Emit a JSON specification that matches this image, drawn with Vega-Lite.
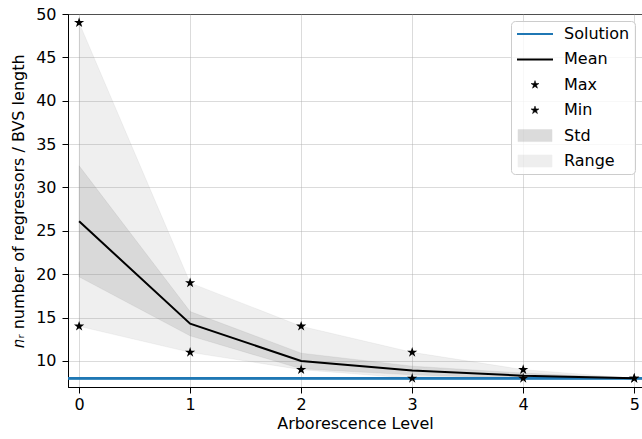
{
  "$schema": "https://vega.github.io/schema/vega-lite/v6.json",
  "width": 574,
  "height": 373,
  "autosize": {"type": "none"},
  "padding": {"left": 68, "top": 14, "right": 0, "bottom": 52},
  "background": "white",
  "config": {
    "view": {"stroke": "black", "strokeWidth": 1},
    "font": "DejaVu Sans",
    "axis": {
      "labelFont": "DejaVu Sans", "labelFontSize": 16, "labelColor": "black",
      "titleFont": "DejaVu Sans", "titleFontSize": 16, "titleFontWeight": "normal", "titleColor": "black",
      "domainColor": "black", "tickColor": "black", "tickSize": 6,
      "gridColor": "#b0b0b0", "gridOpacity": 0.45, "gridWidth": 1
    }
  },
  "data": {"values": [
    {"level": 0, "mean": 26.1, "lo": 19.7, "hi": 32.5, "min": 14, "max": 49},
    {"level": 1, "mean": 14.3, "lo": 12.9, "hi": 15.7, "min": 11, "max": 19},
    {"level": 2, "mean": 10.0, "lo": 9.1, "hi": 10.9, "min": 9, "max": 14},
    {"level": 3, "mean": 8.9, "lo": 8.4, "hi": 9.4, "min": 8, "max": 11},
    {"level": 4, "mean": 8.3, "lo": 8.0, "hi": 8.6, "min": 8, "max": 9},
    {"level": 5, "mean": 8.0, "lo": 8.0, "hi": 8.0, "min": 8, "max": 8}
  ]},
  "layer": [
    {
      "mark": {"type": "area", "fillOpacity": 0.13, "stroke": "#808080", "strokeWidth": 0.8, "strokeOpacity": 0.1},
      "encoding": {
        "x": {"field": "level", "type": "quantitative",
          "scale": {"domain": [-0.1, 5.07], "nice": false, "zero": false},
          "axis": {"values": [0, 1, 2, 3, 4, 5], "title": "Arborescence Level", "format": "d", "labelPadding": 3, "titlePadding": 3}},
        "y": {"field": "max", "type": "quantitative",
          "scale": {"domain": [7, 50], "nice": false, "zero": false},
          "axis": {"values": [10, 15, 20, 25, 30, 35, 40, 45, 50], "title": "𝑛ᵣ number of regressors / BVS length", "titlePadding": 9, "labelPadding": 6}},
        "y2": {"field": "min"},
        "color": {"datum": "Range", "type": "nominal",
          "scale": {"domain": ["Solution", "Mean", "Max", "Min", "Std", "Range"],
                    "range": ["#1f77b4", "#000000", "#000000", "#000000", "#808080", "#808080"]},
          "legend": {
            "title": null,
            "orient": "top-right",
            "offset": 7,
            "padding": 5,
            "fillColor": "rgba(255,255,255,0.8)",
            "strokeColor": "#cccccc",
            "cornerRadius": 4,
            "labelFont": "DejaVu Sans",
            "labelFontSize": 16,
            "labelColor": "black",
            "symbolSize": 100,
            "symbolOffset": 11,
            "labelOffset": 21,
            "rowPadding": 9.4,
            "symbolType": {"expr": "datum.value == 'Solution' || datum.value == 'Mean' ? 'M-3.6,0H3.6' : (datum.value == 'Max' || datum.value == 'Min' ? 'M0,-0.84L0.1886,-0.2596L0.7988,-0.2596L0.3049,0.0991L0.4939,0.6796L0,0.3209L-0.4939,0.6796L-0.3049,0.0991L-0.7988,-0.2596L-0.1886,-0.2596Z' : 'M-3.4,-1.2H3.4V1.2H-3.4Z')"},
            "symbolFillColor": {"expr": "datum.value == 'Std' || datum.value == 'Range' ? '#808080' : (datum.value == 'Solution' ? '#1f77b4' : 'black')"},
            "symbolStrokeColor": {"expr": "datum.value == 'Solution' ? '#1f77b4' : (datum.value == 'Std' || datum.value == 'Range' ? '#808080' : 'black')"},
            "symbolStrokeWidth": {"expr": "datum.value == 'Solution' || datum.value == 'Mean' ? 2 : 0.5"},
            "symbolOpacity": {"expr": "datum.value == 'Std' ? 0.28 : (datum.value == 'Range' ? 0.13 : 1)"}
          }
        }
      }
    },
    {
      "mark": {"type": "area", "fillOpacity": 0.2, "stroke": "#808080", "strokeWidth": 0.8, "strokeOpacity": 0.15},
      "encoding": {
        "x": {"field": "level", "type": "quantitative"},
        "y": {"field": "hi", "type": "quantitative"},
        "y2": {"field": "lo"},
        "color": {"datum": "Std", "type": "nominal"}
      }
    },
    {
      "mark": {"type": "rule", "strokeWidth": 2},
      "encoding": {
        "y": {"datum": 8, "type": "quantitative"},
        "color": {"datum": "Solution", "type": "nominal"}
      }
    },
    {
      "mark": {"type": "line", "strokeWidth": 2},
      "encoding": {
        "x": {"field": "level", "type": "quantitative"},
        "y": {"field": "mean", "type": "quantitative"},
        "color": {"datum": "Mean", "type": "nominal"}
      }
    },
    {
      "mark": {"type": "point", "shape": "M0,-1L0.2245,-0.309L0.951,-0.309L0.363,0.118L0.588,0.809L0,0.382L-0.588,0.809L-0.363,0.118L-0.951,-0.309L-0.2245,-0.309Z", "filled": true, "size": 115, "opacity": 1},
      "encoding": {
        "x": {"field": "level", "type": "quantitative"},
        "y": {"field": "max", "type": "quantitative"},
        "color": {"datum": "Max", "type": "nominal"}
      }
    },
    {
      "mark": {"type": "point", "shape": "M0,-1L0.2245,-0.309L0.951,-0.309L0.363,0.118L0.588,0.809L0,0.382L-0.588,0.809L-0.363,0.118L-0.951,-0.309L-0.2245,-0.309Z", "filled": true, "size": 115, "opacity": 1},
      "encoding": {
        "x": {"field": "level", "type": "quantitative"},
        "y": {"field": "min", "type": "quantitative"},
        "color": {"datum": "Min", "type": "nominal"}
      }
    }
  ]
}
